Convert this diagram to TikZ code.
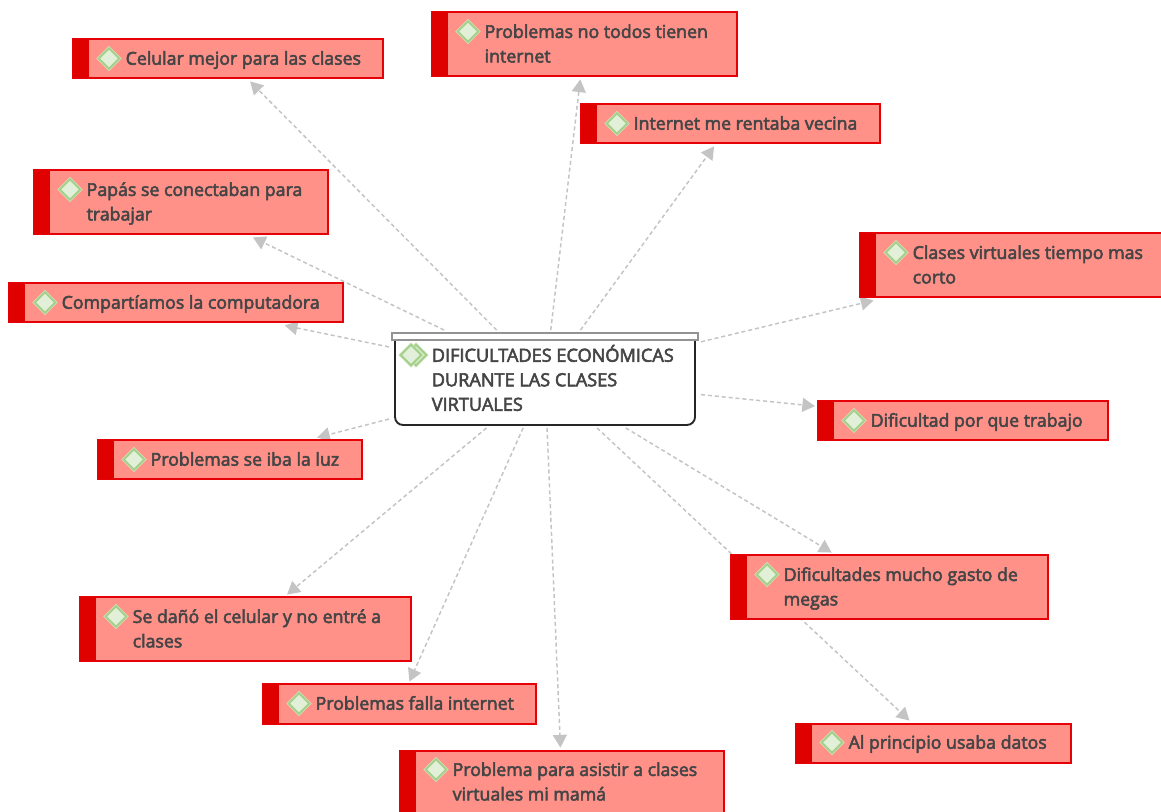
\documentclass[tikz,border=0pt]{standalone}
\usepackage{fontspec}
\setmainfont{Open Sans}[FakeBold=3]
\usetikzlibrary{arrows.meta,shapes.geometric,backgrounds}
\definecolor{boxfill}{HTML}{FF9189}
\definecolor{boxred}{HTML}{E60008}
\definecolor{barred}{HTML}{DF0000}
\definecolor{linkgray}{HTML}{C4C4C4}
\definecolor{txt}{HTML}{454545}
\definecolor{iconfill}{HTML}{E2F0DA}
\definecolor{iconline}{HTML}{A5D08A}
\tikzset{
  x=0.75pt,y=-0.75pt,
  topic/.style={rectangle,fill=boxfill,draw=boxred,line width=1.5pt,inner sep=0pt,outer sep=2.2pt,text=txt,font=\fontsize{13.3pt}{18.4pt}\selectfont},
  hubbox/.style={rectangle,inner sep=0pt,outer xsep=4.5pt,outer ysep=2.2pt,text=txt,font=\fontsize{13.6pt}{18.4pt}\selectfont},
  icon/.style={diamond,aspect=1,fill=iconfill,draw=iconline,line width=1.4pt,inner sep=0pt,minimum size=16pt,
    preaction={draw=iconline!55,line width=2.6pt}},
  link/.style={draw=linkgray,line width=1.1pt,dash pattern=on 3pt off 2.2pt,-{Triangle[length=9.5pt,width=10.5pt,fill=linkgray,sharp]}},
}
\newcommand{\topicbox}[6]{%
  \pgfmathsetlengthmacro{\boxw}{(#4-#2)*0.75pt-0.75pt}%
  \pgfmathsetlengthmacro{\boxh}{(#5-#3)*0.75pt-0.75pt}%
  \pgfmathsetlengthmacro{\boxt}{\boxw-39.6pt}%
  \node[topic,minimum width=\boxw,minimum height=\boxh] (#1) at ({(#2+#4)/2+0.4},{(#3+#5)/2})
    {\hbox to \boxw{\hspace*{39.6pt}\parbox[c]{\boxt}{\vspace*{1.2pt}\raggedright\strut #6\strut}\hfil}};
  \fill[barred] (#2+0.5,#3) rectangle (#2+17,#5-0.5);
  \node[icon] (#1-icon) at (#2+37,#3+19.5) {};
}
\begin{document}
\begin{tikzpicture}
\useasboundingbox (0,0) rectangle (1161,812);
\clip (0,0) rectangle (1161,812);
% central topic
\node[hubbox,minimum width=225pt,minimum height=69pt] (main) at (545,379)
  {\hbox to 225pt{\hspace*{27.6pt}\parbox[c]{197pt}{\vspace*{3.6pt}\raggedright\strut DIFICULTADES ECONÓMICAS\\DURANTE LAS CLASES\\VIRTUALES\strut}\hfil}};
\draw[line width=1.4pt,black!85,rounded corners=6pt] (395,338) -- (395,425) -- (695,425) -- (695,338);
\draw[line width=1.2pt,gray!85,fill=white] (392,333) rectangle (698,340);
\node[icon] (main-icon2) at (416,355) {};
\node[icon] (main-icon) at (411,355) {};
% topics
\topicbox{a}{72}{39}{383}{79}{Celular mejor para las clases}
\topicbox{b}{431}{12}{737}{77}{Problemas no todos tienen\\internet}
\topicbox{c}{580}{104}{880}{144}{Internet me rentaba vecina}
\topicbox{d}{33}{170}{328}{235}{Papás se conectaban para\\trabajar}
\topicbox{e}{8}{283}{343}{323}{Compartíamos la computadora}
\topicbox{f}{859}{233}{1179}{298}{Clases virtuales tiempo mas\\corto}
\topicbox{g}{817}{401}{1108}{441}{Dificultad por que trabajo}
\topicbox{h}{97}{440}{362}{480}{Problemas se iba la luz}
\topicbox{i}{79}{597}{411}{662}{Se dañó el celular y no entré a\\clases}
\topicbox{j}{262}{684}{536}{724}{Problemas falla internet}
\topicbox{k}{399}{750}{724}{815}{Problema para asistir a clases\\virtuales mi mamá}
\topicbox{l}{730}{555}{1048}{620}{Dificultades mucho gasto de\\megas}
\topicbox{m}{795}{723}{1071}{763}{Al principio usaba datos}
% connectors
\begin{pgfonlayer}{background}
\fill[white] (0,0) rectangle (1161,812);
\foreach \t in {a,b,c,d,e,f,g,h,i,j,k,l,m}{
  \draw[link] (main) -- (\t);
}
\end{pgfonlayer}
\end{tikzpicture}
\end{document}
